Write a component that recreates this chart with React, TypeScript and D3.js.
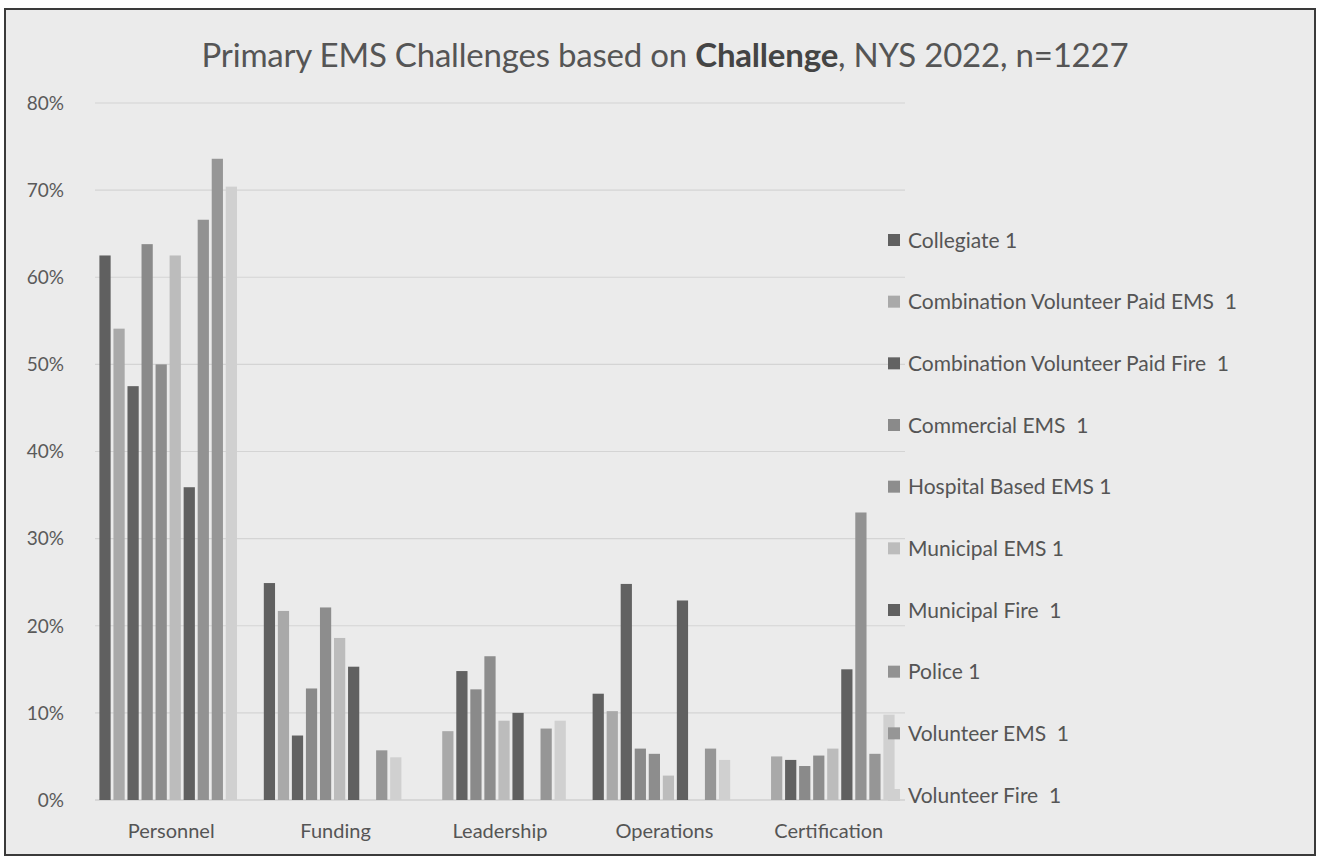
import React from "react";
import * as d3 from "d3";

const categories = ["Personnel", "Funding", "Leadership", "Operations", "Certification"];
const seriesNames = [
  "Collegiate 1",
  "Combination Volunteer Paid EMS  1",
  "Combination Volunteer Paid Fire  1",
  "Commercial EMS  1",
  "Hospital Based EMS 1",
  "Municipal EMS 1",
  "Municipal Fire  1",
  "Police 1",
  "Volunteer EMS  1",
  "Volunteer Fire  1",
];
const collegiate = [62.5, 24.9, 0, 12.2, 0];
const combVolPaidEMS = [54.1, 21.7, 7.9, 10.2, 5.0];
const combVolPaidFire = [47.5, 7.4, 14.8, 24.8, 4.6];
const commercialEMS = [63.8, 12.8, 12.7, 5.9, 3.9];
const hospitalEMS = [50.0, 22.1, 16.5, 5.3, 5.1];
const municipalEMS = [62.5, 18.6, 9.1, 2.8, 5.9];
const municipalFire = [35.9, 15.3, 10.0, 22.9, 15.0];
const police = [66.6, 0, 0, 0, 33.0];
const volunteerEMS = [73.6, 5.7, 8.2, 5.9, 5.3];
const volunteerFire = [70.4, 4.9, 9.1, 4.6, 9.8];
const seriesValues = [
  collegiate, combVolPaidEMS, combVolPaidFire, commercialEMS, hospitalEMS,
  municipalEMS, municipalFire, police, volunteerEMS, volunteerFire,
];
const yTicks = [0, 10, 20, 30, 40, 50, 60, 70, 80];
const colors = [
  "#606060", "#a9a9a9", "#626262", "#8a8a8a", "#8d8d8d",
  "#bcbcbc", "#606060", "#929292", "#969696", "#d0d0d0",
];

export default function App() {
  const W = 1320, H = 858;
  const y = d3.scaleLinear().domain([0, 80]).range([800, 103]);
  const x0 = d3.scaleBand<string>().domain(categories).range([86, 908]).padding(0);
  const x1 = d3.scaleBand<number>()
    .domain(d3.range(seriesNames.length))
    .range([12, x0.bandwidth() - 12])
    .paddingInner(0.2)
    .paddingOuter(0.1);
  const font = "Lato, 'Open Sans', sans-serif";
  const legendY = d3.scaleLinear().domain([0, 9]).range([240, 795]);

  return (
    <svg width={W} height={H} style={{ position: "absolute", left: 0, top: 0 }} fontFamily={font}>
      <rect x={0} y={0} width={W} height={H} fill="#ffffff" />
      <rect x={5} y={9} width={1310} height={846} fill="#ebebeb" stroke="#3a3a3a" strokeWidth={2} />
      <text x={665} y={67} textAnchor="middle" fontSize={33} fill="#555" letterSpacing={-0.2}>
        Primary EMS Challenges based on <tspan fontWeight="bold" fill="#444">Challenge</tspan>, NYS 2022, n=1227
      </text>
      {yTicks.map((t) => (
        <g key={t}>
          <line x1={95} x2={905} y1={y(t)} y2={y(t)} stroke={t === 0 ? "#c4c4c4" : "#d4d4d4"} strokeWidth={1.2} />
          <text x={64} y={y(t)} dy="0.36em" textAnchor="end" fontSize={19} fill="#5a5a5a">
            {t}%
          </text>
        </g>
      ))}
      {categories.map((c, ci) => (
        <g key={c} transform={`translate(${x0(c)},0)`}>
          {seriesValues.map((vals, si) =>
            vals[ci] > 0 ? (
              <rect
                key={si}
                x={x1(si)}
                y={y(vals[ci])}
                width={x1.bandwidth()}
                height={y(0) - y(vals[ci])}
                fill={colors[si]}
              />
            ) : null
          )}
          <text x={x0.bandwidth() / 2 + 3} y={838} textAnchor="middle" fontSize={20} fill="#555">
            {c}
          </text>
        </g>
      ))}
      {seriesNames.map((n, i) => (
        <g key={n} transform={`translate(888,${legendY(i)})`}>
          <rect x={0} y={-6} width={12} height={12} fill={colors[i]} />
          <text x={20} y={0} dy="0.36em" fontSize={21} fill="#555" style={{ whiteSpace: "pre" }}>
            {n}
          </text>
        </g>
      ))}
    </svg>
  );
}
